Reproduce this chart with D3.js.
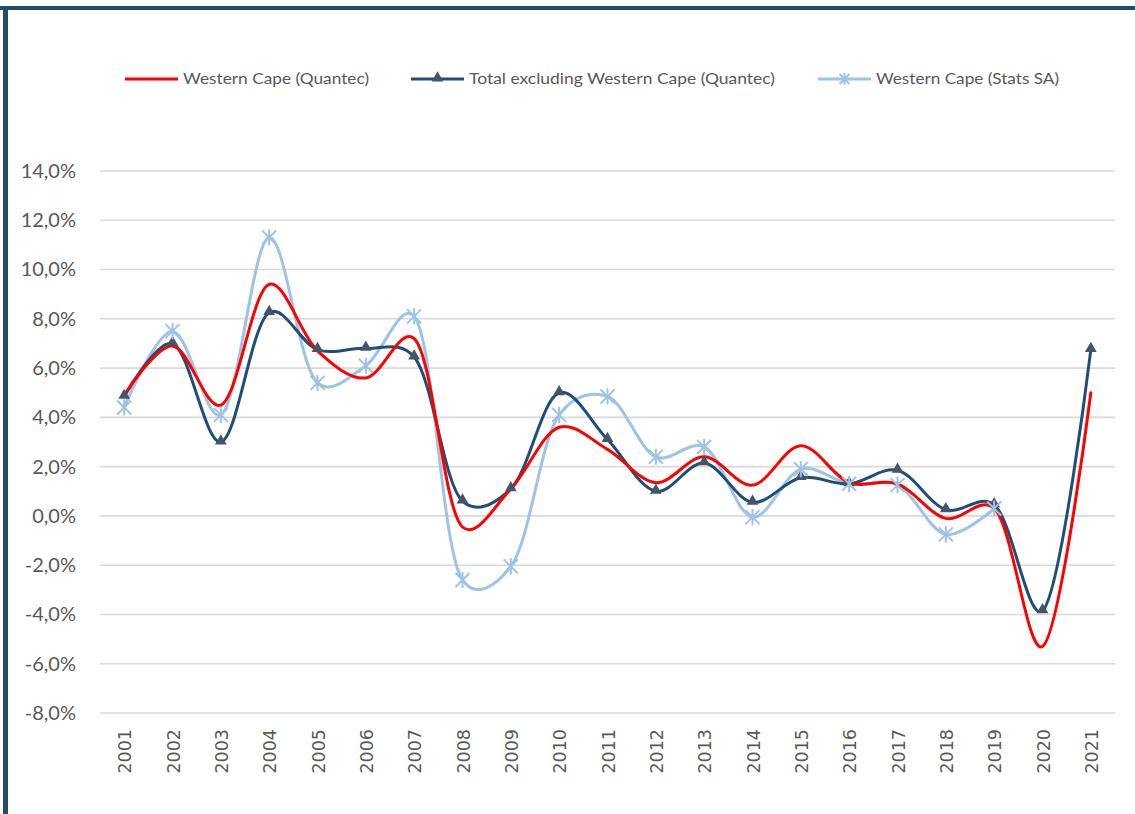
<!DOCTYPE html>
<html>
<head>
<meta charset="utf-8">
<script src="https://cdn.jsdelivr.net/npm/d3@7"></script>
<style>
  html, body { margin: 0; padding: 0; background: #ffffff; }
  svg { display: block; }
</style>
</head>
<body>
<script>
// Annual growth rates, 2001–2021 (%)
const years = ["2001","2002","2003","2004","2005","2006","2007","2008","2009","2010","2011",
               "2012","2013","2014","2015","2016","2017","2018","2019","2020","2021"];
const wcQuantec = [4.9, 6.9, 4.5, 9.4, 6.7, 5.6, 7.2, -0.45, 1.1, 3.6, 2.7,
                   1.35, 2.4, 1.25, 2.85, 1.35, 1.3, -0.1, 0.3, -5.3, 5.0];
const totalExWc = [4.85, 7.0, 3.0, 8.25, 6.75, 6.8, 6.45, 0.6, 1.1, 5.0, 3.1,
                   1.0, 2.15, 0.55, 1.55, 1.3, 1.85, 0.25, 0.45, -3.85, 6.75];
const wcStatsSa = [4.4, 7.5, 4.1, 11.3, 5.4, 6.1, 8.1, -2.6, -2.05, 4.1, 4.85,
                   2.4, 2.8, -0.05, 1.9, 1.3, 1.25, -0.75, 0.3, null, null];
const yTicks = [-8, -6, -4, -2, 0, 2, 4, 6, 8, 10, 12, 14];

const seriesNames = ["Western Cape (Quantec)", "Total excluding Western Cape (Quantec)", "Western Cape (Stats SA)"];

const W = 1135, H = 814;
const margin = { left: 100, right: 20, top: 171, bottom: 101 };

const svg = d3.select("body").append("svg").attr("width", W).attr("height", H);

// frame
svg.append("rect").attr("x", 0).attr("y", 6).attr("width", W).attr("height", 4).attr("fill", "#1f4e66");
svg.append("rect").attr("x", 3).attr("y", 6).attr("width", 5).attr("height", H - 6).attr("fill", "#1f4e66");

const x = d3.scaleBand().domain(years).range([margin.left, W - margin.right]);
const y = d3.scaleLinear().domain([-8, 14]).range([H - margin.bottom, margin.top]);
const cx = d => x(d) + x.bandwidth() / 2;

// gridlines
svg.append("g").selectAll("line").data(yTicks).join("line")
  .attr("x1", margin.left).attr("x2", W - margin.right)
  .attr("y1", d => y(d)).attr("y2", d => y(d))
  .attr("stroke", "#d9d9d9").attr("stroke-width", 1.6);

const fmt = v => d3.format(".1f")(v).replace(".", ",").replace("−", "-") + "%";

// y axis labels
const yAxis = d3.axisLeft(y).tickValues(yTicks).tickSize(0).tickPadding(24).tickFormat(fmt);
svg.append("g").attr("transform", `translate(${margin.left},0)`).call(yAxis)
  .call(g => g.select(".domain").remove())
  .call(g => g.selectAll("text").attr("fill", "#595959")
    .style("font-family", "Lato, 'Open Sans', sans-serif").style("font-size", "20px"));

// x axis labels (rotated)
const xAxis = d3.axisBottom(x).tickSize(0).tickPadding(0);
svg.append("g").attr("transform", `translate(0,${y(-8)})`).call(xAxis)
  .call(g => g.select(".domain").remove())
  .call(g => g.selectAll("text")
    .attr("fill", "#595959")
    .style("font-family", "'DejaVu Sans', sans-serif").style("font-size", "17.5px")
    .attr("transform", "rotate(-90)")
    .attr("text-anchor", "end")
    .attr("x", -16).attr("y", 1).attr("dy", "0.35em"));

const colors = ["#ff0000", "#1f4e79", "#9dc3e6"];
const allSeries = [wcQuantec, totalExWc, wcStatsSa];

// smoothed lines (Catmull–Rom)
const line = d3.line()
  .defined(d => d.v !== null)
  .x(d => cx(d.year)).y(d => y(d.v))
  .curve(d3.curveCatmullRom.alpha(0.25));

const plotOrder = [2, 1, 0];
plotOrder.forEach(i => {
  const pts = years.map((yr, j) => ({ year: yr, v: allSeries[i][j] }));
  svg.append("path").datum(pts)
    .attr("d", line)
    .attr("fill", "none").attr("stroke", colors[i]).attr("stroke-width", 3)
    .attr("stroke-linejoin", "round").attr("stroke-linecap", "round");
});

// triangle markers
const triPts = years.map((yr, j) => ({ year: yr, v: totalExWc[j] })).filter(d => d.v !== null);
svg.append("g").selectAll("path").data(triPts).join("path")
  .attr("d", d3.symbol(d3.symbolTriangle, 60))
  .attr("transform", d => `translate(${cx(d.year)},${y(d.v) - 1})`)
  .attr("fill", "#44546a");

// star markers (asterisk)
const starPath = (r) => `M${-r},${-r}L${r},${r}M${-r},${r}L${r},${-r}M0,${-r * 1.15}L0,${r * 1.15}`;
const starPts = years.map((yr, j) => ({ year: yr, v: wcStatsSa[j] })).filter(d => d.v !== null);
svg.append("g").selectAll("path").data(starPts).join("path")
  .attr("d", starPath(7))
  .attr("transform", d => `translate(${cx(d.year)},${y(d.v)})`)
  .attr("fill", "none").attr("stroke", "#9dc3e6").attr("stroke-width", 2);

// legend
const legendItems = [
  { name: seriesNames[0], color: colors[0], x0: 125, marker: null, len: 186 },
  { name: seriesNames[1], color: colors[1], x0: 411, marker: "tri", len: 306 },
  { name: seriesNames[2], color: colors[2], x0: 818, marker: "star", len: 183 }
];
const lg = svg.append("g");
legendItems.forEach(it => {
  const ly = 79;
  lg.append("line").attr("x1", it.x0).attr("x2", it.x0 + 53).attr("y1", ly).attr("y2", ly)
    .attr("stroke", it.color).attr("stroke-width", 3);
  if (it.marker === "tri") {
    lg.append("path").attr("d", d3.symbol(d3.symbolTriangle, 60))
      .attr("transform", `translate(${it.x0 + 26.5},${ly - 1})`).attr("fill", "#44546a");
  } else if (it.marker === "star") {
    lg.append("path").attr("d", starPath(5))
      .attr("transform", `translate(${it.x0 + 26.5},${ly})`)
      .attr("fill", "none").attr("stroke", it.color).attr("stroke-width", 2);
  }
  lg.append("text").attr("x", it.x0 + 58).attr("y", ly).attr("dy", "0.35em")
    .attr("fill", "#595959")
    .style("font-family", "Lato, 'Open Sans', sans-serif").style("font-size", "15px")
    .attr("textLength", it.len).attr("lengthAdjust", "spacingAndGlyphs")
    .text(it.name);
});
</script>
</body>
</html>
